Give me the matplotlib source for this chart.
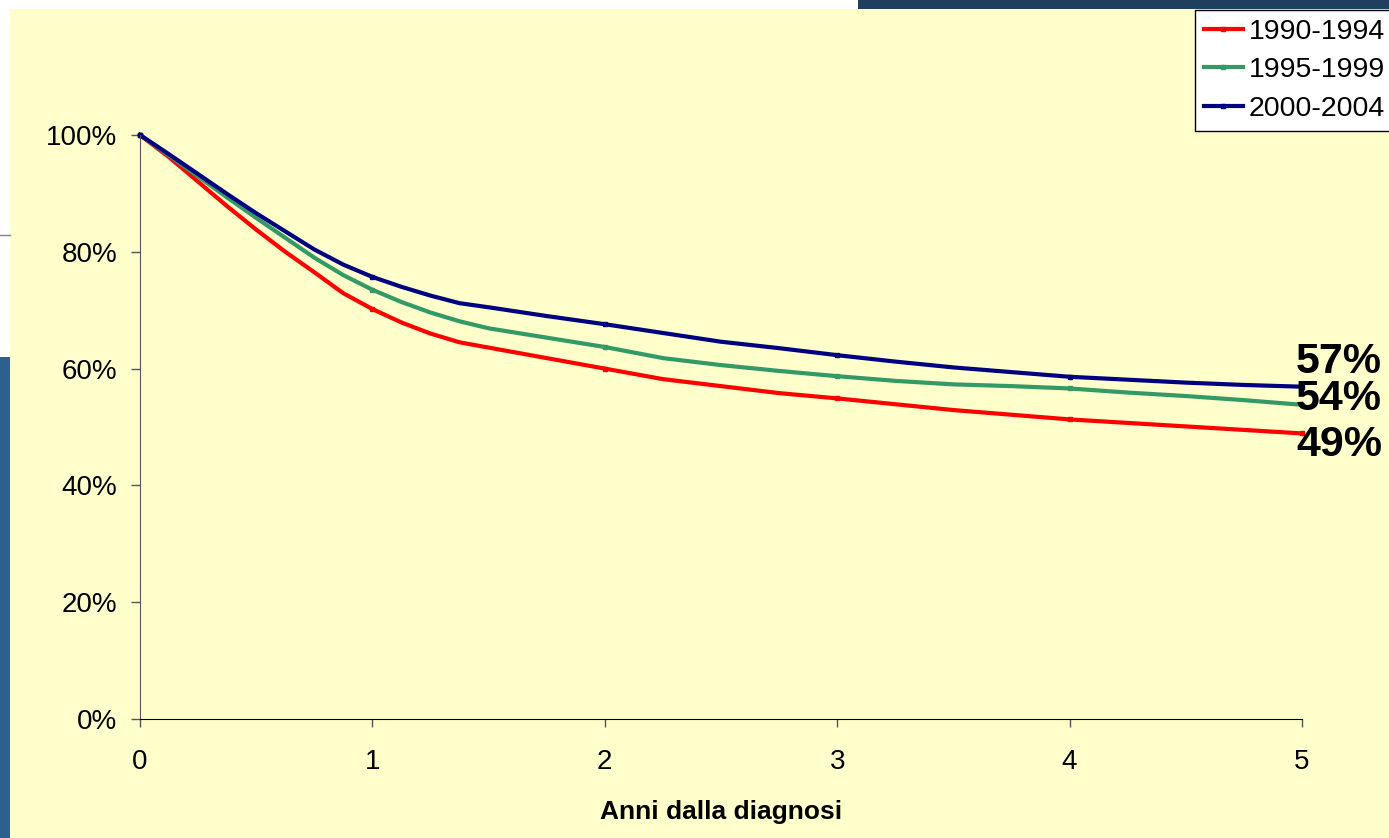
import matplotlib
matplotlib.use("Agg")
import matplotlib.pyplot as plt
from matplotlib.patches import Rectangle
from matplotlib.ticker import PercentFormatter

plt.rcParams['font.family'] = ['Liberation Sans', 'DejaVu Sans']

# Years since diagnosis (sampled where the curves bend)
years = [0, 0.125, 0.25, 0.375, 0.5, 0.625, 0.75, 0.875, 1, 1.125, 1.25, 1.375, 1.5,
         1.75, 2, 2.25, 2.5, 2.75, 3, 3.25, 3.5, 3.75, 4, 4.25, 4.5, 4.75, 5]

# Survival (%)
surv_1990 = [100, 96.2, 92.0, 87.8, 83.8, 80.0, 76.5, 72.9, 70.2, 67.9, 66.0, 64.5, 63.6,
             61.8, 60.0, 58.2, 57.0, 55.8, 54.9, 53.9, 52.9, 52.1, 51.3, 50.7, 50.1, 49.5, 48.9]
surv_1995 = [100, 96.5, 92.9, 89.3, 85.8, 82.4, 79.0, 76.0, 73.5, 71.4, 69.6, 68.1, 66.9,
             65.3, 63.7, 61.8, 60.6, 59.6, 58.7, 57.9, 57.3, 57.0, 56.6, 55.9, 55.3, 54.6, 53.8]
surv_2000 = [100, 96.7, 93.3, 89.9, 86.6, 83.5, 80.4, 77.8, 75.7, 74.0, 72.5, 71.2, 70.5,
             69.0, 67.6, 66.1, 64.6, 63.5, 62.3, 61.2, 60.2, 59.4, 58.6, 58.1, 57.6, 57.2, 56.9]

series_names = ["1990-1994", "1995-1999", "2000-2004"]
end_labels = ["49%", "54%", "57%"]

bg = "#FFFFCC"
fig = plt.figure(figsize=(13.89, 8.38), dpi=100)
fig.patch.set_facecolor(bg)

# slide decorations around the chart area
W, H = 1389, 838
fig.patches.append(Rectangle((0, 1 - 9 / H), 858 / W, 9 / H, transform=fig.transFigure,
                             facecolor="white", edgecolor="none", zorder=0))
fig.patches.append(Rectangle((858 / W, 1 - 9 / H), 1 - 858 / W, 9 / H, transform=fig.transFigure,
                             facecolor="#203F5E", edgecolor="none", zorder=0))
fig.patches.append(Rectangle((0, 1 - 357 / H), 10 / W, 348 / H, transform=fig.transFigure,
                             facecolor="white", edgecolor="none", zorder=0))
fig.patches.append(Rectangle((0, 0), 10 / W, 1 - 357 / H, transform=fig.transFigure,
                             facecolor="#2F5F8F", edgecolor="none", zorder=0))
fig.lines.append(plt.Line2D([0, 10 / W], [1 - 235 / H, 1 - 235 / H], transform=fig.transFigure,
                            color="#808080", lw=1))

ax = fig.add_axes([140 / W, 1 - 719 / H, (1302 - 140) / W, (719 - 135) / H])
ax.set_facecolor(bg)

colors = ["#FF0000", "#339966", "#000080"]
all_series = [surv_1990, surv_1995, surv_2000]
marks = [years.index(y) for y in [0, 1, 2, 3, 4, 5]]
for vals, name, c in zip(all_series, series_names, colors):
    ax.plot(years, vals, color=c, lw=3, label=name, marker="s", markersize=3,
            markevery=marks, solid_joinstyle="round", clip_on=False)

ax.set_xlim(0, 5)
ax.set_ylim(0, 100)
ax.set_xticks(range(6))
ax.set_yticks(range(0, 101, 20))
ax.yaxis.set_major_formatter(PercentFormatter(decimals=0))
ax.spines['top'].set_visible(False)
ax.spines['right'].set_visible(False)
ax.spines['left'].set_color("#555555")
ax.spines['bottom'].set_color("black")
ax.tick_params(axis='y', length=6.5, width=1, color="#555555", pad=10, labelsize=20)
ax.tick_params(axis='x', length=5.8, width=1, color="#555555", pad=16, labelsize=20)
ax.set_xlabel("Anni dalla diagnosi", fontsize=19, fontweight="bold", labelpad=18)

# end-of-curve values
offsets = [-12, 6, 25]
for vals, lab, dy in zip(all_series, end_labels, offsets):
    ax.annotate(lab, xy=(years[-1], vals[-1]), xytext=(-6, dy), textcoords="offset pixels",
                fontsize=31, fontweight="bold", va="center", ha="left", annotation_clip=False)

leg = fig.legend(loc="upper left", bbox_to_anchor=(1195 / W, 1 - 10 / H), fontsize=20.5,
                 frameon=True, fancybox=False, edgecolor="black", facecolor="white",
                 framealpha=1, handlelength=1.4, handletextpad=0.18, borderpad=0.3,
                 labelspacing=0.45, borderaxespad=0)
leg.get_frame().set_linewidth(1)

fig.savefig("out.png", dpi=100, facecolor=fig.get_facecolor())
